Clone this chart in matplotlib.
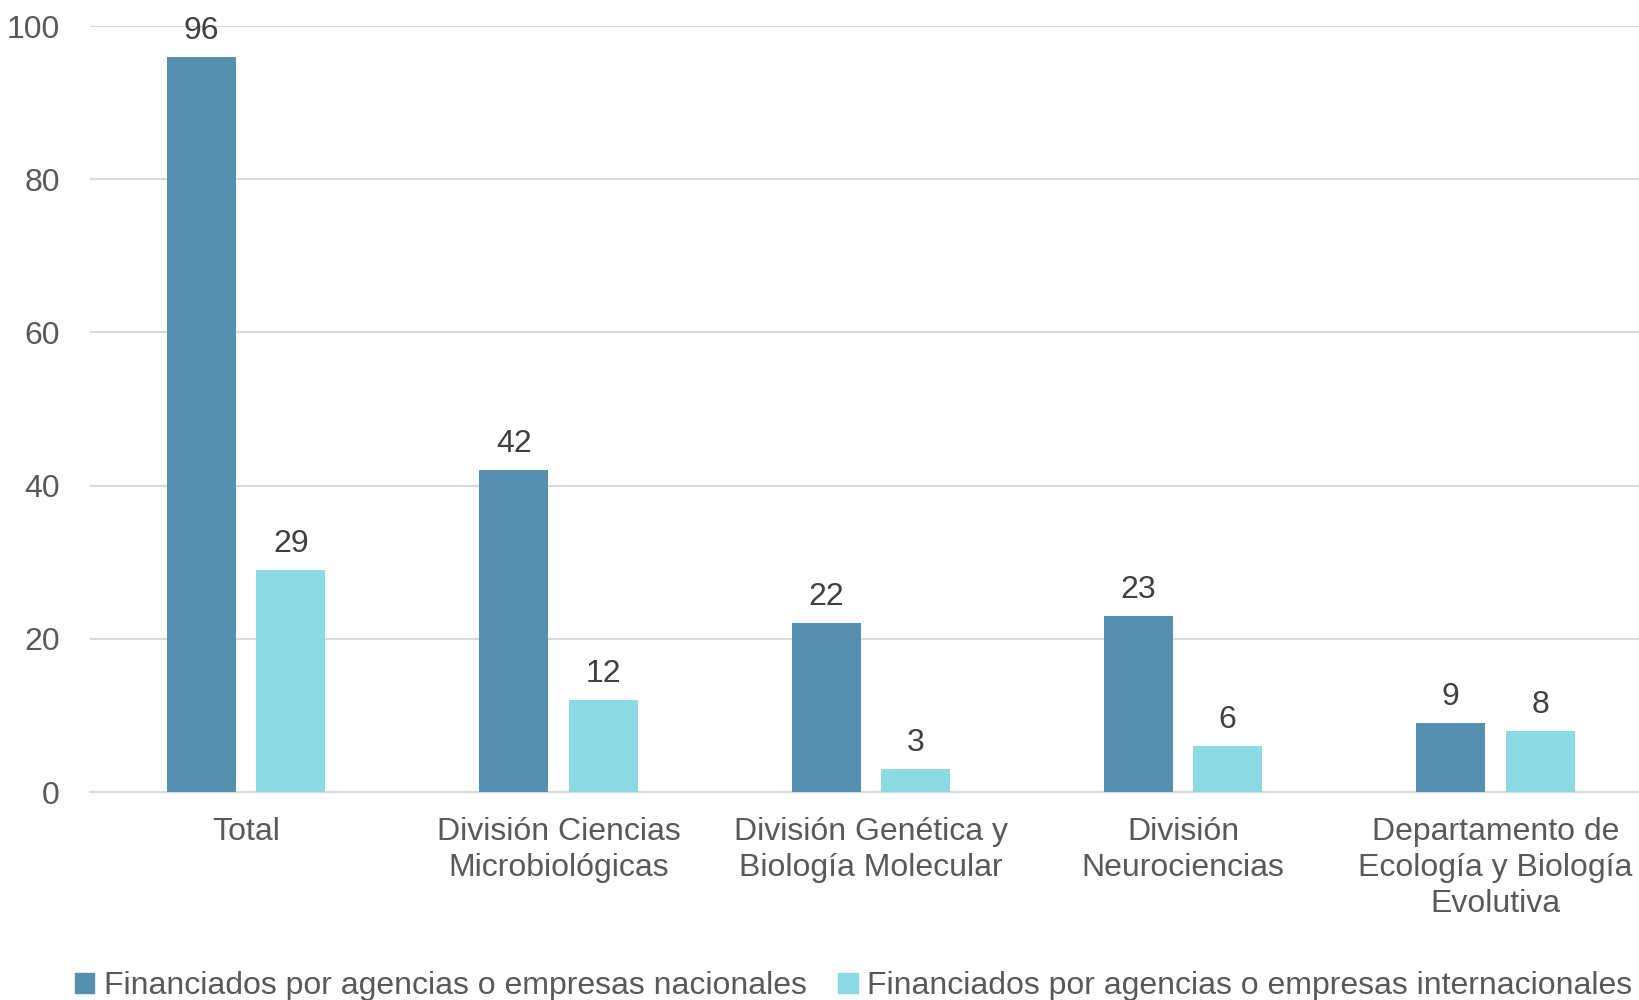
import numpy as np
import matplotlib.pyplot as plt
from matplotlib.patches import Patch

plt.rcParams['font.family'] = ['Liberation Sans', 'DejaVu Sans']

categories = ['Total', 'División Ciencias\nMicrobiológicas', 'División Genética y\nBiología Molecular',
              'División\nNeurociencias', 'Departamento de\nEcología y Biología\nEvolutiva']
nacionales = [96, 42, 22, 23, 9]
internacionales = [29, 12, 3, 6, 8]
series_names = ['Financiados por agencias o empresas nacionales',
                'Financiados por agencias o empresas internacionales']

c_dark = '#5790ae'
c_light = '#8cdae3'
grid_c = '#d9d9d9'
tick_c = '#595959'
label_c = '#404040'

fig = plt.figure(figsize=(16.4, 10), dpi=100)
ax = fig.add_axes([0.055, 0.208, 0.952, 0.766])

x = np.arange(len(categories))
w = 0.221
off = 0.143
b1 = ax.bar(x - off, nacionales, w, color=c_dark, zorder=3)
b2 = ax.bar(x + off, internacionales, w, color=c_light, zorder=3)

ax.bar_label(b1, padding=8, fontsize=23, color=label_c)
ax.bar_label(b2, padding=8, fontsize=23, color=label_c)

ax.set_xlim(-0.5, len(categories) - 0.5)
ax.set_ylim(0, 100)
ax.set_yticks(np.arange(0, 101, 20))
ax.yaxis.grid(True, color=grid_c, linewidth=1.5, zorder=0)
ax.set_axisbelow(True)
for s in ['top', 'right', 'left']:
    ax.spines[s].set_visible(False)
ax.spines['bottom'].set_color(grid_c)
ax.spines['bottom'].set_linewidth(1.5)
ax.tick_params(axis='both', length=0, labelsize=23, labelcolor=tick_c)
ax.tick_params(axis='y', pad=22)
ax.tick_params(axis='x', pad=18)
ax.set_xticks(x)
ax.set_xticklabels(categories, linespacing=1.25)

handles = [Patch(color=c_dark), Patch(color=c_light)]
fig.legend(handles, series_names, loc='center', bbox_to_anchor=(0.5205, 0.014), ncol=2,
           frameon=False, fontsize=23, labelcolor=tick_c, handlelength=0.6, handleheight=0.6,
           handletextpad=0.3, columnspacing=1.0)

fig.savefig('out.png', dpi=100, facecolor='white')
